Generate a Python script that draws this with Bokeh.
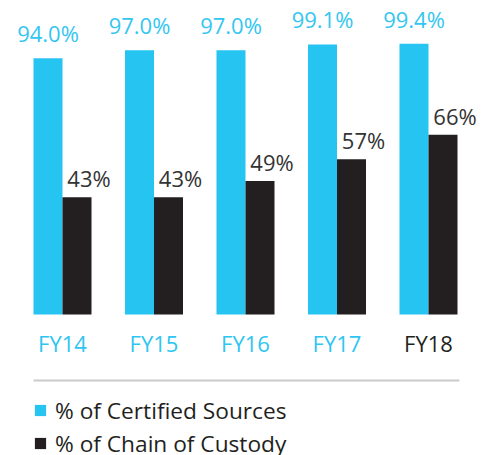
from bokeh.plotting import figure
from bokeh.models import ColumnDataSource, FactorRange, Range1d, Legend, LegendItem
from bokeh.transform import dodge
from bokeh.core.properties import value
from bokeh.embed import file_html
from bokeh.resources import INLINE

# ---- data ----
years = ["FY14", "FY15", "FY16", "FY17", "FY18"]
certified = [94.0, 97.0, 97.0, 99.1, 99.4]
custody = [43, 43, 49, 57, 66]
certified_labels = ["94.0%", "97.0%", "97.0%", "99.1%", "99.4%"]
custody_labels = ["43%", "43%", "49%", "57%", "66%"]
year_colors = ["#2DC5F1", "#2DC5F1", "#2DC5F1", "#2DC5F1", "#231F20"]

CYAN = "#26C4F1"
DARK = "#231F20"
FONT = value("Open Sans")
BW = 0.317

src = ColumnDataSource(dict(
    years=years, certified=certified, custody=custody,
    cl=certified_labels, dl=custody_labels, yc=year_colors,
    zero=[0] * len(years),
))

p = figure(
    width=493, height=455,
    x_range=FactorRange(factors=years, range_padding=0.1776, range_padding_units="absolute"),
    y_range=Range1d(-51.74, 115.23),
    x_axis_location=None, y_axis_location=None,
    toolbar_location=None, output_backend="svg",
    min_border=0, min_border_right=3,
)
p.grid.visible = False
p.outline_line_color = None
p.background_fill_color = "white"

r1 = p.vbar(x=dodge("years", -BW / 2, range=p.x_range), top="certified", width=BW,
            source=src, fill_color=CYAN, line_color=None)
r2 = p.vbar(x=dodge("years", BW / 2, range=p.x_range), top="custody", width=BW,
            source=src, fill_color=DARK, line_color=None)

p.text(x=dodge("years", -BW / 2, range=p.x_range), y="certified", text="cl", source=src,
       text_font=FONT, text_font_size="22px", text_color="#33C6F1",
       text_align="center", text_baseline="alphabetic", y_offset=-25)
p.text(x=dodge("years", BW / 2, range=p.x_range), y="custody", text="dl", source=src,
       text_font=FONT, text_font_size="22px", text_color="#333333",
       text_align="center", text_baseline="alphabetic", x_offset=12, y_offset=-19)

# category labels
p.text(x="years", y="zero", text="years", source=src, text_color="yc",
       text_font=FONT, text_font_size="22px",
       text_align="center", text_baseline="alphabetic", y_offset=28.5)

# divider line spanning from first bar edge to last bar edge
line_src = ColumnDataSource(dict(a=[years[0]], b=[years[-1]], y=[-24.22]))
p.segment(x0=dodge("a", -BW, range=p.x_range), x1=dodge("b", BW + 0.02, range=p.x_range),
          y0="y", y1="y", source=line_src, line_color="#CACACA", line_width=2)

legend = Legend(items=[
    LegendItem(label="% of Certified Sources", renderers=[r1]),
    LegendItem(label="% of Chain of Custody", renderers=[r2]),
], location=(33, -3.5))
legend.label_text_font = "Open Sans"
legend.label_text_font_size = "22.7px"
legend.label_text_color = DARK
legend.glyph_width = 14
legend.glyph_height = 14
legend.label_standoff = 8
legend.label_height = 14
legend.spacing = 2
legend.padding = 0
legend.margin = 0
legend.border_line_color = None
legend.background_fill_alpha = 0
p.add_layout(legend)

open("out.html", "w").write(file_html(p, INLINE))
